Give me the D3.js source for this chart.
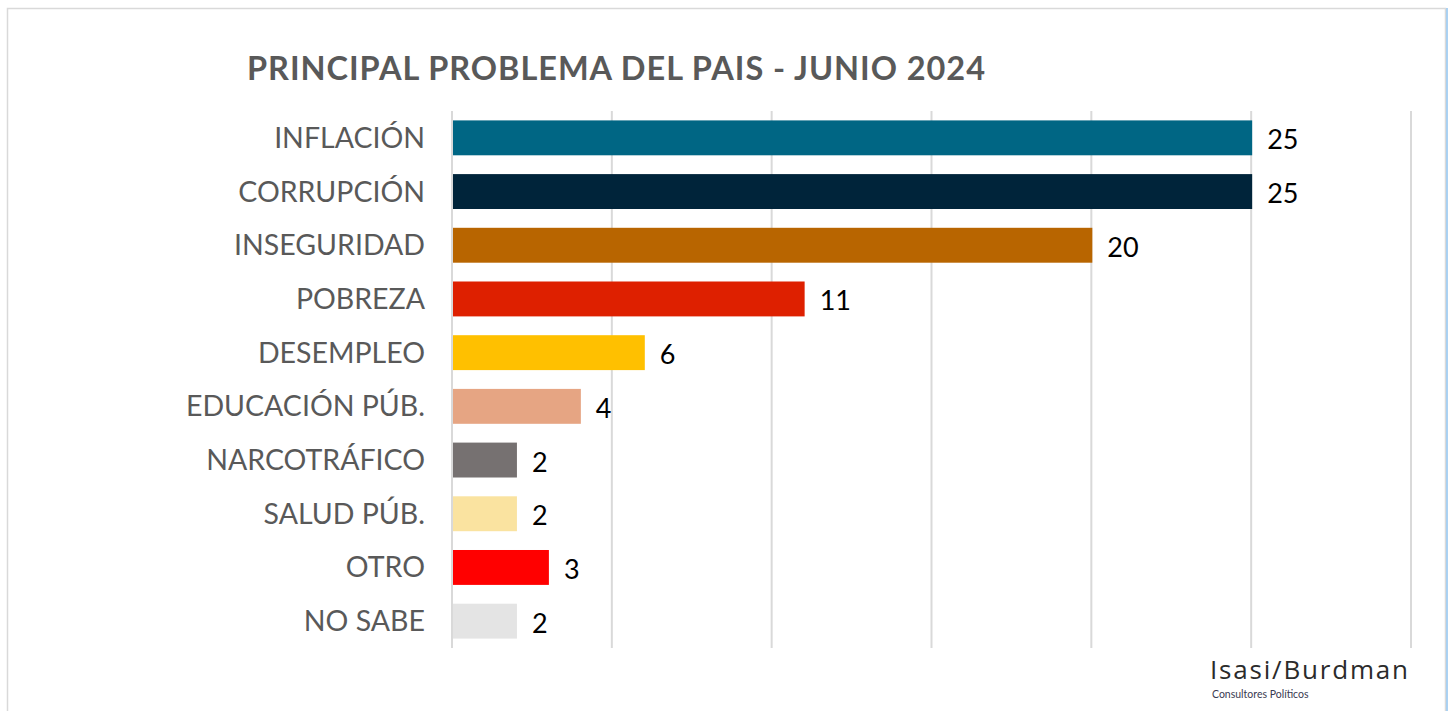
<!DOCTYPE html>
<html lang="es">
<head>
<meta charset="UTF-8" />
<title>Principal problema del pais</title>
<style>
  body { margin: 0; background: #fff; }
  svg text { font-family: "Lato", "Open Sans", sans-serif; }
</style>
</head>
<body>
<div id="chart"></div>
<script src="https://cdn.jsdelivr.net/npm/d3@7"></script>
<script>
var categories = ["INFLACIÓN", "CORRUPCIÓN", "INSEGURIDAD", "POBREZA", "DESEMPLEO",
                  "EDUCACIÓN PÚB.", "NARCOTRÁFICO", "SALUD PÚB.", "OTRO", "NO SABE"];
var values = [25, 25, 20, 11, 6, 4, 2, 2, 3, 2];
var colors = ["#006684", "#00243A", "#B86500", "#DE2000", "#FFC000",
              "#E6A583", "#767171", "#FAE3A0", "#FF0000", "#E4E4E4"];
var xTicks = [0, 5, 10, 15, 20, 25, 30];

var width = 1452, height = 711;
var margin = { top: 111, right: 41, bottom: 63, left: 452 };

var svg = d3.select("#chart").append("svg")
  .attr("width", width)
  .attr("height", height);

// frame
svg.append("rect")
  .attr("x", 7.5).attr("y", 8.5)
  .attr("width", 1438).attr("height", 720)
  .attr("fill", "none").attr("stroke", "#d9d9d9").attr("stroke-width", 1.5);
svg.append("line")
  .attr("x1", 1447).attr("x2", 1447).attr("y1", 8).attr("y2", 711)
  .attr("stroke", "#8fc3ef").attr("stroke-width", 1.5);

var x = d3.scaleLinear().domain([0, 30]).range([margin.left, width - margin.right]);
var y = d3.scaleBand().domain(categories)
  .range([margin.top, height - margin.bottom])
  .paddingInner(0.35).paddingOuter(0.175);

// grid
svg.selectAll("line.grid")
  .data(xTicks)
  .enter().append("line")
  .attr("class", "grid")
  .attr("x1", function(d){ return x(d); })
  .attr("x2", function(d){ return x(d); })
  .attr("y1", margin.top)
  .attr("y2", height - margin.bottom)
  .attr("stroke", "#d9d9d9").attr("stroke-width", 2);

// title
svg.append("text")
  .attr("x", 247).attr("y", 80)
  .attr("font-size", 32.5).attr("font-weight", "bold")
  .attr("fill", "#595959")
  .attr("textLength", 738)
  .attr("lengthAdjust", "spacing")
  .text("PRINCIPAL PROBLEMA DEL PAIS - JUNIO 2024");

// bars
svg.selectAll("rect.bar")
  .data(values)
  .enter().append("rect")
  .attr("class", "bar")
  .attr("x", x(0) + 1)
  .attr("y", function(d, i){ return y(categories[i]); })
  .attr("width", function(d){ return x(d) - x(0); })
  .attr("height", y.bandwidth())
  .attr("fill", function(d, i){ return colors[i]; });

// category labels
svg.selectAll("text.cat")
  .data(categories)
  .enter().append("text")
  .attr("class", "cat")
  .attr("x", 425)
  .attr("y", function(d){ return y(d) + y.bandwidth() / 2; })
  .attr("dy", "0.35em")
  .attr("text-anchor", "end")
  .attr("font-size", 28.5)
  .attr("fill", "#595959")
  .text(function(d){ return d; });

// value labels
svg.selectAll("text.val")
  .data(values)
  .enter().append("text")
  .attr("class", "val")
  .attr("x", function(d){ return x(d) + 16; })
  .attr("y", function(d, i){ return y(categories[i]) + y.bandwidth() / 2 + 2; })
  .attr("dy", "0.35em")
  .attr("font-size", 27)
  .attr("fill", "#000")
  .text(function(d){ return d; });

// logo
svg.append("text")
  .attr("x", 1210).attr("y", 679)
  .attr("font-size", 26)
  .attr("fill", "#2b2b2b")
  .attr("textLength", 198)
  .attr("lengthAdjust", "spacing")
  .style("font-family", "'Open Sans', sans-serif")
  .text("Isasi/Burdman");
svg.append("text")
  .attr("x", 1212).attr("y", 698)
  .attr("font-size", 10.5)
  .attr("fill", "#3a3a50")
  .text("Consultores Políticos");
</script>
</body>
</html>
